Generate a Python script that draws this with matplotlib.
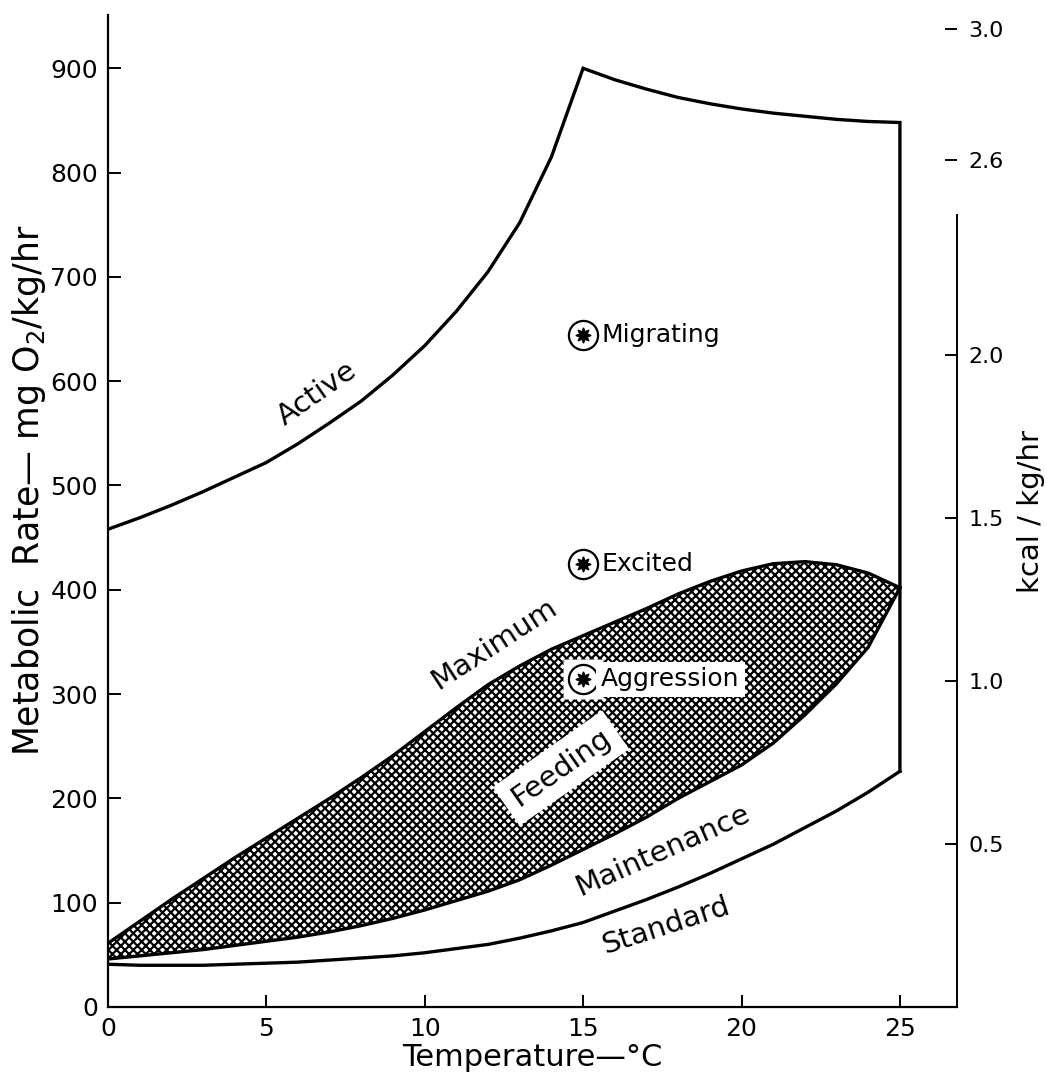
import numpy as np
import matplotlib
matplotlib.use("Agg")
import matplotlib.pyplot as plt

# Metabolic scope of sockeye salmon vs. water temperature (mg O2 / kg / hr)

# Active rate: rising limb up to the 15 C optimum, then the plateau to 25 C
active_temp = [0, 1, 2, 3, 4, 5, 6, 7, 8, 9, 10, 11, 12, 13, 14, 15,
               16, 17, 18, 19, 20, 21, 22, 23, 24, 25]
active_rate = [458, 469, 481, 494, 508, 522, 540, 560, 581, 606, 634, 667, 705, 752, 815, 900,
               889, 880, 872, 866, 861, 857, 854, 851, 849, 848]

# Standard (resting) rate
std_temp = [0, 1, 2, 3, 4, 5, 6, 7, 8, 9, 10, 11, 12, 13, 14, 15, 16, 17, 18, 19,
            20, 21, 22, 23, 24, 25]
std_rate = [41, 40, 40, 40, 41, 42, 43, 45, 47, 49, 52, 56, 60, 66, 73, 81, 92, 103, 115, 128,
            142, 156, 172, 188, 206, 226]

# Feeding band: maximum and maintenance ration curves on a shared temperature grid
feed_temp = [0, 1, 2, 3, 4, 5, 6, 7, 8, 9, 10, 11, 12, 13, 14, 15, 16, 17, 18, 19,
             20, 21, 22, 23, 24, 25]
max_rate = [61, 82, 103, 123, 143, 162, 181, 200, 220, 241, 264, 287, 309, 327, 343, 356, 369,
            382, 396, 408, 418, 425, 427, 424, 416, 402]
maint_rate = [46, 49, 52, 55, 59, 63, 67, 72, 78, 85, 93, 102, 111, 122, 136, 151, 166,
              182, 200, 216, 232, 253, 280, 310, 345, 402]

# Observed activity levels at 15 C
obs_names = ["Migrating", "Excited", "Aggression"]
obs_temp = [15, 15, 15]
obs_rate = [644, 425, 314]

# Right-hand energy scale
kcal_ticks = [0.5, 1.0, 1.5, 2.0, 2.6, 3.0]
CAL_PER_MG = 3.2

plt.rcParams["hatch.linewidth"] = 1.6
plt.rcParams["font.family"] = "DejaVu Sans"

fig = plt.figure(figsize=(10.47, 10.77), dpi=100)
ax = fig.add_axes([0.103, 0.065, 0.811, 0.921])

LW = 2.4
# outline of the active curve, closed down the 25 C edge onto the standard curve
ax.plot(active_temp + [25], active_rate + [std_rate[-1]], color="black", lw=LW,
        solid_joinstyle="miter", zorder=3)
ax.plot(std_temp, std_rate, color="black", lw=LW, zorder=3)

ax.fill_between(feed_temp, maint_rate, max_rate, facecolor="white", edgecolor="black",
                hatch="xxxx", lw=0, zorder=1)
ax.plot(feed_temp, max_rate, color="black", lw=LW, zorder=3)
ax.plot(feed_temp, maint_rate, color="black", lw=LW, zorder=3)

# circled-asterisk symbols with labels
for name, t, r in zip(obs_names, obs_temp, obs_rate):
    if name == "Aggression":
        ax.plot(t, r, marker="s", ms=29, mfc="white", mec="none", zorder=4)
        box = dict(facecolor="white", edgecolor="none", pad=4)
    else:
        box = None
    ax.plot(t, r, marker="o", ms=21, mfc="white", mec="black", mew=1.6, zorder=5)
    ax.plot(t, r, marker=(8, 1, 0), ms=11, color="black", zorder=6)
    ax.annotate(name, (t, r), xytext=(13, 0), textcoords="offset points",
                ha="left", va="center", fontsize=18, bbox=box, zorder=5)

# curve names
curve_labels = [
    ("Active", 6.6, 588, 35, None),
    ("Maximum", 12.2, 348, 33, None),
    ("Feeding", 14.3, 229, 35, dict(facecolor="white", edgecolor="none", pad=7)),
    ("Maintenance", 17.5, 150, 24, None),
    ("Standard", 17.6, 78, 18, None),
]
for txt, x, y, rot, box in curve_labels:
    ax.text(x, y, txt, rotation=rot, rotation_mode="anchor", ha="center", va="center",
            fontsize=21, bbox=box, zorder=4)

ax.set_xlim(0, 26.8)
ax.set_ylim(0, 951)
ax.set_xticks([0, 5, 10, 15, 20, 25])
ax.set_yticks(range(0, 1000, 100))
ax.tick_params(axis="both", direction="in", length=9, width=1.4, labelsize=18, pad=7)
ax.spines["top"].set_visible(False)
ax.spines["right"].set_visible(False)
for side in ("left", "bottom"):
    ax.spines[side].set_linewidth(1.6)

sec = ax.secondary_yaxis("right", functions=(lambda mg: mg * CAL_PER_MG / 1000,
                                             lambda kc: kc * 1000 / CAL_PER_MG))
sec.set_yticks(kcal_ticks)
sec.set_yticklabels([f"{k:.1f}" for k in kcal_ticks])
sec.tick_params(direction="in", length=9, width=1.4, labelsize=16, pad=8)
sec.spines["right"].set_bounds(0, 2.43)
sec.spines["right"].set_linewidth(1.4)
sec.set_ylabel("kcal / kg/hr", fontsize=21, labelpad=10)

ax.set_xlabel("Temperature—°C", fontsize=22, labelpad=2)
fig.text(0.028, 0.545, "Metabolic  Rate— mg O$_2$/kg/hr", rotation=90,
         ha="center", va="center", fontsize=25)

fig.savefig("out.png", dpi=100)
